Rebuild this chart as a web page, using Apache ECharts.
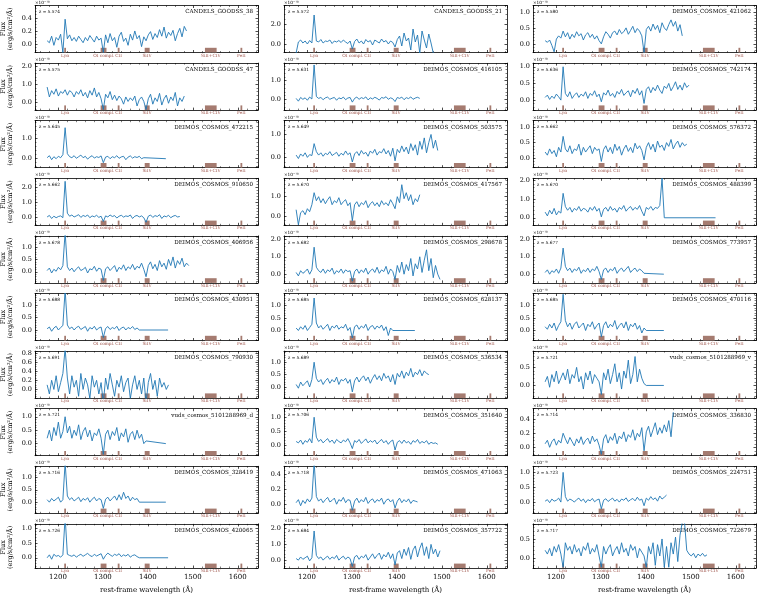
<!DOCTYPE html>
<html>
<head>
<meta charset="utf-8">
<script src="https://cdn.jsdelivr.net/npm/echarts@6/dist/echarts.min.js"></script>
<style>
html, body { margin: 0; padding: 0; background: #fff; }
#chart { width: 760px; height: 595px; }
</style>
</head>
<body>
<div id="chart"></div>
<script>
// panels, row by row (3 per row)
const panelNames = [
  'CANDELS_GOODSS_38', 'CANDELS_GOODSS_21', 'DEIMOS_COSMOS_421062',
  'CANDELS_GOODSS_47', 'DEIMOS_COSMOS_416105', 'DEIMOS_COSMOS_742174',
  'DEIMOS_COSMOS_472215', 'DEIMOS_COSMOS_503575', 'DEIMOS_COSMOS_576372',
  'DEIMOS_COSMOS_910650', 'DEIMOS_COSMOS_417567', 'DEIMOS_COSMOS_488399',
  'DEIMOS_COSMOS_406956', 'DEIMOS_COSMOS_298678', 'DEIMOS_COSMOS_773957',
  'DEIMOS_COSMOS_430951', 'DEIMOS_COSMOS_628137', 'DEIMOS_COSMOS_470116',
  'DEIMOS_COSMOS_790930', 'DEIMOS_COSMOS_536534', 'vuds_cosmos_5101288969_v',
  'vuds_cosmos_5101288969_d', 'DEIMOS_COSMOS_351640', 'DEIMOS_COSMOS_336830',
  'DEIMOS_COSMOS_328419', 'DEIMOS_COSMOS_471063', 'DEIMOS_COSMOS_224751',
  'DEIMOS_COSMOS_420065', 'DEIMOS_COSMOS_357722', 'DEIMOS_COSMOS_722679'
];
const redshifts = [
  '5.574', '5.572', '5.580', '5.575', '5.631', '5.636', '5.645', '5.649', '5.662', '5.662',
  '5.670', '5.670', '5.678', '5.682', '5.677', '5.688', '5.685', '5.685', '5.691', '5.689',
  '5.721', '5.721', '5.706', '5.714', '5.716', '5.718', '5.723', '5.726', '5.684', '5.717'
];
const yMin = [-0.13, -0.85, -0.27, -0.43, -0.58, -0.30, -0.45, -0.45, -0.30, -0.50,
  -0.43, -0.40, -0.45, -0.50, -0.50, -0.42, -0.40, -0.40, -0.19, -0.45,
  -0.35, -0.45, -0.35, -0.12, -0.45, -0.12, -0.35, -0.35, -0.50, -0.27];
const yMax = [0.59, 3.85, 1.20, 2.18, 1.95, 1.11, 1.90, 1.60, 1.20, 2.60,
  1.92, 2.10, 1.45, 2.20, 2.20, 1.46, 1.48, 1.48, 0.84, 1.45,
  0.95, 1.30, 1.30, 0.55, 1.45, 0.50, 1.20, 1.16, 2.30, 0.90];
const yStep = [0.2, 2, 0.5, 1, 1, 0.5, 1, 1, 0.5, 1,
  1, 1, 0.5, 1, 1, 0.5, 0.5, 0.5, 0.2, 0.5,
  0.5, 0.5, 0.5, 0.2, 0.5, 0.2, 0.5, 0.5, 1, 0.5];
// flat zero continuation after the measured spectrum (null = none)
const tailEnd = [null, null, null, null, null, null, 1440, null, null, null,
  null, 1555, null, null, 1440, 1445, 1440, 1440, null, null,
  1440, 1440, null, null, 1440, null, null, 1445, null, null];

// spectra: flux (1e-18 erg/s/cm2/A), sampled from 1176 A every 5 A
const specStart = 1176;
const specStep = 5;
const fluxGoodss38 = [0.05, 0.02, 0.12, -0.02, 0.10, 0.06, 0.15, -0.13, 0.38, 0.08, 0.14, 0.05, 0.10, 0.04, 0.12, 0.07, 0.02, 0.10, 0.05, 0.13, 0.08, 0.03, 0.12, 0.06, 0.09, -0.13, 0.14, 0.02, 0.16, 0.05, 0.10, -0.05, 0.12, 0.18, 0.04, 0.09, -0.02, 0.15, 0.06, 0.20, 0.08, 0.13, -0.04, 0.11, 0.05, 0.14, 0.19, 0.07, 0.16, 0.10, 0.22, 0.12, 0.26, 0.09, 0.18, 0.13, 0.21, 0.05, 0.16, 0.24, 0.11, 0.27, 0.20];
const fluxGoodss21 = [-0.9, 0.2, 0.4, 0.1, 0.3, 0.0, 0.35, 0.1, 2.9, 0.3, 0.2, 0.45, 0.1, 0.3, 0.25, 0.4, 0.05, 0.3, 0.2, 0.35, 0.15, 0.4, 0.2, 0.05, 0.3, -0.5, 0.25, 0.5, 0.1, 0.3, 0.0, 0.45, 0.2, 0.35, -0.1, 0.4, 0.25, 0.1, 0.5, 0.2, 0.35, 0.0, 0.3, 0.15, -0.3, 0.45, 0.8, -0.2, 1.1, 0.3, 0.6, -0.6, 1.5, 0.2, 0.9, -0.9, 1.3, 0.4, -0.4, 1.0, 0.1, -0.9];
const flux421062 = [0.10, 0.05, 0.12, -0.05, -0.25, 0.15, 0.25, 0.18, 0.40, 0.22, 0.35, 0.15, 0.30, 0.20, 0.38, 0.25, 0.32, 0.12, 0.28, 0.35, 0.20, 0.30, 0.15, 0.25, 0.10, 0.00, 0.22, 0.38, 0.30, 0.18, 0.35, 0.40, 0.28, 0.45, 0.32, 0.38, 0.50, 0.30, 0.42, 0.55, 0.35, 0.48, 0.40, 0.25, -0.27, 0.45, 0.55, 0.40, 0.62, 0.45, 0.58, 0.35, 0.66, 0.50, 0.42, 0.60, 0.75, 0.55, 0.70, 0.40, 0.60, 0.25];
const fluxGoodss47 = [0.85, 0.30, 0.65, 0.45, 0.75, 0.35, 0.60, 0.50, 0.70, 0.40, 0.65, 0.55, 0.30, 0.60, 0.45, 0.70, 0.35, 0.55, 0.25, 0.65, 0.40, 0.80, 0.30, 0.55, 0.20, -0.40, 0.45, 0.25, 0.60, 0.15, 0.40, 0.10, 0.35, 0.20, -0.10, 0.30, 0.05, 0.25, 0.10, 0.35, -0.20, 0.15, 0.30, 0.05, -0.40, 0.20, 0.45, -0.10, 0.25, 0.05, 0.50, -0.15, 0.20, 0.40, -0.05, 0.30, 0.10, 0.55, -0.20, 0.25, 0.05, 0.35];
const flux416105 = [0.05, -0.10, 0.10, 0.00, 0.08, -0.05, 0.12, 0.02, 1.85, 0.15, 0.05, 0.10, -0.02, 0.08, 0.12, 0.00, 0.06, 0.10, -0.05, 0.08, 0.03, 0.12, -0.02, 0.07, 0.10, -0.15, 0.05, 0.12, 0.00, 0.09, 0.04, 0.13, -0.03, 0.08, 0.02, 0.11, 0.05, -0.04, 0.10, 0.06, 0.14, 0.00, 0.08, 0.03, -0.12, 0.10, 0.05, 0.12, -0.02, 0.09, 0.04, 0.13, 0.00, 0.07, 0.11, 0.05];
const flux742174 = [0.08, 0.15, 0.02, 0.12, 0.05, 0.18, 0.10, 0.00, 1.00, 0.20, 0.10, 0.25, 0.05, 0.15, 0.22, 0.08, 0.18, 0.12, 0.25, 0.05, 0.20, 0.14, 0.28, 0.10, 0.18, -0.05, 0.22, 0.15, 0.30, 0.12, 0.20, 0.08, 0.26, 0.18, 0.32, 0.14, 0.22, 0.28, 0.10, 0.30, 0.20, 0.35, 0.15, 0.28, -0.10, 0.32, 0.40, 0.22, 0.38, 0.28, 0.45, 0.30, 0.20, 0.42, 0.35, 0.50, 0.28, 0.40, 0.55, 0.32, 0.45, 0.30, 0.52, 0.38, 0.45];
const flux472215 = [0.05, 0.15, -0.05, 0.10, 0.00, 0.12, 0.05, 0.20, 1.55, 0.25, 0.10, 0.05, 0.15, 0.02, 0.10, 0.18, 0.05, 0.12, -0.02, 0.08, 0.15, 0.03, 0.10, 0.06, 0.14, -0.20, 0.08, 0.12, 0.00, 0.10, 0.05, 0.15, 0.02, 0.09, 0.12, -0.05, 0.08, 0.14, 0.03, 0.10, 0.06, 0.12, 0.00, 0.05];
const flux503575 = [0.10, -0.05, 0.15, 0.05, 0.20, 0.00, 0.12, 0.08, 0.60, 0.25, 0.10, 0.20, 0.05, 0.18, 0.12, 0.25, 0.08, 0.15, 0.22, 0.05, 0.18, 0.10, 0.28, 0.12, 0.20, -0.20, 0.15, 0.25, 0.08, 0.30, 0.15, 0.22, 0.05, 0.28, 0.18, 0.35, 0.10, 0.25, 0.20, 0.38, 0.15, 0.30, 0.05, 0.40, -0.15, 0.35, 0.20, 0.50, 0.25, 0.45, 0.15, 0.60, 0.30, 0.55, 0.10, 0.70, 0.35, 0.85, 0.20, 0.65, 1.00, 0.40, 0.75, 0.30];
const flux576372 = [0.20, 0.10, 0.30, 0.15, 0.25, 0.05, 0.35, 0.20, 0.70, 0.30, 0.20, 0.40, 0.15, 0.30, 0.25, 0.45, 0.10, 0.35, 0.20, 0.30, 0.40, 0.15, 0.35, 0.25, 0.30, -0.10, 0.28, 0.40, 0.20, 0.35, 0.15, 0.45, 0.25, 0.38, 0.10, 0.30, 0.42, 0.22, 0.35, 0.18, 0.48, 0.30, 0.40, 0.25, -0.05, 0.35, 0.50, 0.28, 0.45, 0.20, 0.55, 0.35, 0.42, 0.25, 0.50, 0.38, 0.60, 0.30, 0.45, 0.55, 0.35, 0.50, 0.40, 0.45];
const flux910650 = [0.05, 0.15, -0.05, 0.10, 0.00, 0.08, 0.12, 0.00, 2.40, 0.30, 0.10, 0.18, 0.05, 0.12, 0.20, 0.02, 0.15, 0.08, 0.18, 0.00, 0.12, 0.06, 0.16, 0.02, 0.10, -0.25, 0.12, 0.05, 0.18, 0.08, 0.14, -0.02, 0.10, 0.16, 0.04, 0.12, 0.08, 0.18, -0.05, 0.10, 0.15, 0.05, 0.12, 0.00, -0.30, 0.10, 0.18, 0.02, 0.14, 0.08, 0.20, -0.05, 0.12, 0.06, 0.16, 0.00, 0.10, 0.15, 0.05, 0.08];
const flux417567 = [0.35, -0.40, 0.20, 0.30, 0.10, 0.40, 0.25, 0.60, 1.20, 0.80, 1.00, 0.70, 0.90, 0.65, 0.85, 1.00, 0.60, 0.80, 0.70, 0.95, 0.60, 0.75, 0.85, 0.55, 0.70, -0.20, 0.60, 0.75, 0.50, 0.70, 0.60, 0.80, 0.45, 0.65, 0.75, 0.55, 0.70, 0.50, 0.80, 0.60, 0.70, 0.55, 0.85, 0.65, 0.40, 1.00, 0.70, 1.60, 0.90, 1.20, 0.80, 1.10, 0.60, 0.90, 0.75, 1.10];
const flux488399 = [0.30, 0.10, 0.40, 0.20, 0.50, 0.15, 0.35, 0.25, 1.30, 0.60, 0.40, 0.55, 0.30, 0.50, 0.40, 0.60, 0.35, 0.50, 0.45, 0.30, 0.55, 0.40, 0.60, 0.35, 0.50, 0.05, 0.45, 0.55, 0.35, 0.60, 0.40, 0.50, 0.30, 0.55, 0.45, 0.65, 0.35, 0.50, 0.60, 0.40, 0.55, 0.45, 0.65, 0.35, 0.10, 0.55, 0.45, 0.60, 0.40, 0.55, 0.50, 0.65, 2.10, 0.00];
const flux406956 = [0.05, 0.15, -0.05, 0.10, 0.02, 0.18, 0.08, 0.25, 1.60, 0.20, 0.05, 0.15, 0.00, 0.12, 0.20, 0.05, 0.10, 0.18, -0.05, 0.12, 0.08, 0.22, 0.02, 0.15, 0.10, -0.35, 0.12, 0.20, 0.05, 0.15, 0.25, 0.00, 0.18, 0.10, 0.28, 0.05, 0.20, 0.12, 0.30, 0.08, 0.22, 0.15, 0.35, 0.10, -0.20, 0.25, 0.40, 0.12, 0.30, 0.05, 0.45, 0.20, 0.35, 0.10, 0.50, 0.25, 0.60, 0.15, 0.45, 0.30, 0.55, 0.20, 0.35, 0.25];
const flux298678 = [0.10, -0.10, 0.20, 0.05, 0.15, 0.30, 0.00, 0.25, 1.55, 0.40, 0.20, 0.10, 0.30, 0.05, 0.25, 0.15, 0.35, 0.00, 0.20, 0.10, 0.30, 0.05, 0.25, 0.15, 0.20, -0.40, 0.15, 0.30, 0.05, 0.25, 0.10, 0.35, 0.00, 0.20, 0.30, 0.10, 0.40, 0.05, 0.25, 0.15, 0.45, 0.00, 0.30, 0.15, -0.30, 0.50, 0.10, 0.70, 0.00, 0.55, 0.20, 0.90, -0.10, 0.60, 0.30, 1.00, 0.10, 0.80, 1.40, 0.20, 0.90, -0.20, 0.50, 0.00, -0.30];
const flux773957 = [0.10, 0.25, 0.00, 0.20, 0.10, 0.30, 0.05, 0.35, 1.50, 0.45, 0.20, 0.35, 0.10, 0.30, 0.20, 0.40, 0.05, 0.25, 0.15, 0.35, 0.10, 0.30, 0.20, 0.45, 0.15, -0.30, 0.25, 0.35, 0.10, 0.30, 0.20, 0.40, 0.05, 0.25, 0.35, 0.15, 0.30, 0.45, 0.10, 0.25, 0.35, 0.15, 0.30, 0.20, 0.05];
const flux430951 = [0.05, 0.12, -0.05, 0.08, 0.15, 0.00, 0.10, 0.18, 1.60, 0.20, 0.05, 0.12, 0.00, 0.10, 0.15, 0.02, 0.08, 0.14, -0.05, 0.10, 0.04, 0.15, 0.00, 0.08, 0.12, -0.30, 0.06, 0.14, 0.02, 0.10, 0.05, 0.15, -0.02, 0.08, 0.12, 0.00, 0.10, 0.05, 0.14, 0.02, 0.08, 0.00];
const flux628137 = [0.10, 0.00, 0.15, 0.05, 0.20, 0.00, 0.12, 0.25, 1.30, 0.30, 0.10, 0.20, 0.05, 0.15, 0.25, 0.00, 0.18, 0.10, 0.22, 0.05, 0.15, 0.10, 0.25, 0.00, 0.12, -0.30, 0.15, 0.22, 0.05, 0.18, 0.10, 0.25, 0.00, 0.15, 0.20, 0.05, 0.18, 0.10, 0.22, 0.00, 0.15, -0.20, 0.10, 0.00];
const flux470116 = [0.15, 0.05, 0.25, 0.10, 0.30, 0.00, 0.20, 0.35, 1.45, 0.40, 0.15, 0.30, 0.05, 0.25, 0.35, 0.10, 0.20, 0.30, 0.00, 0.25, 0.15, 0.35, 0.05, 0.20, 0.30, -0.25, 0.20, 0.35, 0.10, 0.25, 0.15, 0.40, 0.05, 0.20, 0.30, 0.10, 0.35, 0.00, 0.25, 0.15, 0.30, 0.05, 0.20, -0.10, 0.10, 0.00];
const flux790930 = [0.10, -0.10, 0.20, 0.00, 0.30, -0.05, 0.15, 0.35, 0.90, 0.25, -0.10, 0.30, 0.05, 0.20, -0.15, 0.35, 0.00, 0.25, 0.10, -0.20, 0.30, 0.05, 0.20, -0.10, 0.15, -0.30, 0.25, 0.00, 0.35, 0.10, -0.15, 0.20, 0.05, 0.30, -0.05, 0.15, 0.25, -0.20, 0.10, 0.30, 0.00, 0.20, -0.10, 0.25, -0.30, 0.15, 0.35, 0.00, 0.20, -0.15, 0.25, 0.05, 0.15, 0.00, 0.10];
const flux536534 = [0.10, -0.05, 0.20, 0.05, 0.15, 0.25, 0.00, 0.30, 1.00, 0.35, 0.20, 0.30, 0.10, 0.25, 0.35, 0.15, 0.30, 0.20, 0.40, 0.10, 0.30, 0.25, 0.35, 0.15, 0.30, -0.20, 0.25, 0.40, 0.20, 0.35, 0.45, 0.25, 0.40, 0.15, 0.35, 0.50, 0.30, 0.45, 0.25, 0.55, 0.35, 0.45, 0.20, 0.50, 0.10, 0.55, 0.40, 0.65, 0.35, 0.60, 0.45, 0.75, 0.40, 0.60, 0.50, 0.70, 0.45, 0.65, 0.55, 0.50];
const fluxVudsV = [0.10, 0.25, -0.05, 0.30, 0.10, 0.40, 0.05, 0.20, 0.35, 0.15, 0.45, 0.05, 0.30, 0.20, 0.50, 0.10, 0.25, -0.10, 0.35, 0.15, 0.40, 0.05, 0.30, 0.20, 0.10, -0.25, 0.35, 0.15, 0.45, 0.05, 0.30, 0.60, 0.10, 0.35, -0.10, 0.40, 0.20, 0.70, 0.05, 0.30, 0.80, 0.10, 0.45, 0.20, 0.05, 0.00];
const fluxVudsD = [0.20, 0.50, 0.10, 0.60, 0.30, 0.80, 0.20, 0.45, 1.00, 0.40, 0.65, 0.20, 0.50, 0.30, 0.70, 0.15, 0.45, 0.60, 0.25, 0.50, 0.10, 0.40, 0.30, 0.55, 0.20, -0.40, 0.35, 0.50, 0.15, 0.45, 0.30, 0.60, 0.10, 0.40, 0.25, 0.55, 0.05, 0.35, 0.45, 0.15, 0.50, 0.20, 0.35, 0.00, 0.10];
const flux351640 = [0.15, 0.10, 0.20, 0.05, 0.18, 0.12, 0.25, 0.10, 1.00, 0.30, 0.15, 0.22, 0.10, 0.18, 0.25, 0.12, 0.20, 0.08, 0.22, 0.15, 0.10, 0.20, 0.14, 0.25, 0.10, -0.10, 0.18, 0.12, 0.22, 0.08, 0.16, 0.24, 0.10, 0.18, 0.12, 0.20, 0.06, 0.15, 0.22, 0.10, 0.18, 0.05, 0.15, 0.20, -0.15, 0.12, 0.18, 0.08, 0.20, 0.10, 0.15, 0.05, 0.18, 0.12, 0.22, 0.08, 0.15, 0.10, 0.18, 0.05, 0.12, 0.08, 0.10, 0.05];
const flux336830 = [0.05, 0.10, 0.00, 0.08, 0.12, 0.03, 0.10, 0.06, 0.20, 0.12, 0.05, 0.14, 0.08, 0.02, 0.12, 0.06, 0.15, 0.04, 0.10, 0.13, 0.05, 0.16, 0.08, 0.12, 0.03, -0.10, 0.12, 0.18, 0.06, 0.15, 0.10, 0.20, 0.05, 0.16, 0.12, 0.22, 0.08, 0.18, 0.14, 0.25, 0.10, 0.20, 0.15, 0.28, -0.05, 0.22, 0.30, 0.15, 0.25, 0.35, 0.18, 0.28, 0.20, 0.32, 0.22, 0.38, 0.15, 0.50];
const flux328419 = [0.10, 0.00, 0.15, 0.05, 0.12, 0.20, 0.00, 0.10, 1.60, 0.25, 0.10, 0.18, 0.05, 0.12, 0.20, 0.02, 0.15, 0.08, 0.18, 0.00, 0.12, 0.20, 0.05, 0.15, 0.10, -0.25, 0.12, 0.20, 0.05, 0.15, 0.25, 0.08, 0.30, 0.10, 0.40, 0.15, 0.25, 0.05, 0.20, 0.10, 0.15, 0.00];
const flux471063 = [0.02, 0.06, -0.02, 0.05, 0.01, 0.07, 0.03, 0.08, 0.55, 0.10, 0.04, 0.07, 0.02, 0.06, 0.09, 0.03, 0.05, 0.08, 0.00, 0.06, 0.04, 0.09, 0.02, 0.06, 0.05, -0.08, 0.04, 0.08, 0.02, 0.06, 0.03, 0.09, 0.01, 0.05, 0.07, 0.02, 0.06, 0.04, 0.08, 0.00, 0.05, 0.07, 0.03, 0.06, -0.05, 0.04, 0.08, 0.02, 0.06, 0.03, 0.07, 0.01, 0.05, 0.04, 0.03];
const flux224751 = [0.05, 0.10, 0.00, 0.12, 0.05, 0.08, 0.15, 0.02, 1.00, 0.20, 0.05, 0.12, 0.08, 0.02, 0.10, 0.15, 0.05, 0.12, 0.00, 0.10, 0.06, 0.14, 0.03, 0.09, 0.12, -0.20, 0.08, 0.13, 0.04, 0.10, 0.15, 0.05, 0.11, 0.02, 0.12, 0.08, 0.16, 0.04, 0.10, 0.14, 0.06, 0.18, 0.08, 0.12, -0.10, 0.15, 0.08, 0.20, 0.10, 0.16, 0.05, 0.22, 0.12, 0.18, 0.25];
const flux420065 = [0.00, 0.10, -0.05, 0.12, 0.05, 0.08, 0.02, 0.10, 1.40, 0.12, 0.08, 0.05, 0.10, 0.02, 0.08, 0.12, 0.05, 0.10, 0.15, 0.08, 0.04, 0.12, 0.06, 0.10, 0.14, -0.05, 0.08, 0.16, 0.10, 0.05, 0.12, 0.08, 0.14, 0.04, 0.10, 0.06, 0.12, 0.02, 0.08, 0.10, 0.04, 0.00];
const flux357722 = [0.10, 0.00, 0.20, 0.05, 0.15, 0.25, -0.05, 0.15, 1.85, 0.30, 0.10, 0.20, 0.00, 0.15, 0.25, 0.05, 0.20, 0.10, 0.30, 0.00, 0.15, 0.25, 0.05, 0.20, 0.10, -0.40, 0.20, 0.30, 0.05, 0.25, 0.15, 0.35, 0.00, 0.20, 0.40, 0.10, 0.30, 0.45, 0.05, 0.35, 0.20, 0.50, 0.10, 0.40, -0.30, 0.45, 0.60, 0.10, 0.70, 0.30, 0.80, 0.05, 0.65, 0.90, 0.20, 0.75, 1.10, 0.30, 0.85, 0.10, 1.00, 0.40, 0.70, 0.20, 0.60];
const flux722679 = [0.20, 0.10, 0.25, 0.05, 0.30, 0.15, 0.35, 0.10, -0.25, 0.40, 0.20, 0.30, 0.10, 0.35, 0.15, 0.25, 0.05, 0.30, 0.20, 0.40, 0.10, 0.25, 0.15, 0.35, 0.05, -0.25, 0.30, 0.10, 0.25, 0.35, 0.05, 0.20, 0.30, 0.10, 0.40, 0.15, 0.25, 0.05, 0.35, 0.20, 0.30, 0.00, 0.25, 0.15, 0.05, -0.25, 0.30, 0.10, 0.40, -0.20, 0.35, 0.05, 0.50, -0.25, 0.30, -0.25, 0.40, 0.10, 0.55, -0.10, 0.60, 0.95, 0.95, 0.20, 0.10, 0.05, 0.12, 0.00, 0.10, 0.05, 0.12, 0.04, 0.08];

const fluxes = [
  fluxGoodss38, fluxGoodss21, flux421062, fluxGoodss47, flux416105, flux742174,
  flux472215, flux503575, flux576372, flux910650, flux417567, flux488399,
  flux406956, flux298678, flux773957, flux430951, flux628137, flux470116,
  flux790930, flux536534, fluxVudsV, fluxVudsD, flux351640, flux336830,
  flux328419, flux471063, flux224751, flux420065, flux357722, flux722679
];

// emission / absorption line markers
const lineNames = ['Ly\u03b1', 'OI compl.', 'CII', 'SiIV', 'SiII+CIV', 'FeII'];
const lineLo = [1214, 1295, 1333, 1393, 1527, 1606];
const lineHi = [1218, 1308, 1337, 1404, 1553, 1610];
const lineLabelAt = [1216, 1302, 1335, 1398, 1540, 1608];

const xMin = 1149;
const xMax = 1645;

const chart = echarts.init(document.getElementById('chart'));
const FONT = 'DejaVu Serif';
const colLeft = [35, 284, 533];
const panelW = 223;
const panelH = 47;
const rowTop = 5.5;
const rowStride = 57.6;

function onStep(v, step) {
  const q = v / step;
  return Math.abs(q - Math.round(q)) < 1e-6;
}

const grids = [];
const xAxes = [];
const yAxes = [];
const series = [];
const texts = [];

panelNames.forEach(function (name, i) {
  const row = Math.floor(i / 3);
  const col = i % 3;
  const left = colLeft[col];
  const top = rowTop + row * rowStride;
  const lastRow = row === 9;
  grids.push({ left: left, top: top, width: panelW, height: panelH });

  const tickStyle = { color: '#000', width: 0.7 };
  const xCommon = {
    type: 'value', gridIndex: i, min: xMin, max: xMax, minInterval: 100, maxInterval: 100,
    axisLine: { show: true, onZero: false, lineStyle: { color: '#000', width: 0.8 } },
    axisTick: { show: true, inside: true, length: 2.5, lineStyle: tickStyle },
    minorTick: { show: true, splitNumber: 5, length: 1.5, lineStyle: { color: '#000', width: 0.5 } },
    splitLine: { show: false }
  };
  xAxes.push(Object.assign({}, xCommon, {
    position: 'bottom',
    axisLabel: {
      show: lastRow, margin: 6, fontSize: 7, color: '#000', fontFamily: FONT,
      formatter: function (v) { return onStep(v, 100) ? String(v) : ''; }
    },
    name: lastRow ? 'rest-frame wavelength (\u00c5)' : '',
    nameLocation: 'middle', nameGap: 19,
    nameTextStyle: { fontSize: 7, color: '#000', fontFamily: FONT }
  }));
  xAxes.push(Object.assign({}, xCommon, { position: 'top', axisLabel: { show: false } }));

  const step = yStep[i];
  const yCommon = {
    type: 'value', gridIndex: i, min: yMin[i], max: yMax[i], minInterval: step, maxInterval: step,
    axisLine: { show: true, lineStyle: { color: '#000', width: 0.8 } },
    axisTick: { show: true, inside: true, length: 2.5, lineStyle: tickStyle },
    minorTick: { show: true, splitNumber: (step === 0.2 || step === 2) ? 4 : 5, length: 1.5, lineStyle: { color: '#000', width: 0.5 } },
    splitLine: { show: false }
  };
  yAxes.push(Object.assign({}, yCommon, {
    position: 'left',
    axisLabel: {
      margin: 3, fontSize: 6.5, color: '#000', fontFamily: FONT,
      formatter: function (v) { return onStep(v, step) ? v.toFixed(1) : ''; }
    },
    name: '\u00d710\u207b\u00b9\u2078', nameLocation: 'end', nameGap: 1,
    nameTextStyle: { fontSize: 4.3, color: '#000', fontFamily: FONT, align: 'left', verticalAlign: 'bottom' }
  }));
  yAxes.push(Object.assign({}, yCommon, { position: 'right', axisLabel: { show: false } }));

  // spectrum
  const pts = fluxes[i].map(function (f, k) { return [specStart + k * specStep, f]; });
  if (tailEnd[i] !== null) pts.push([tailEnd[i], 0]);
  series.push({
    type: 'line', xAxisIndex: 2 * i, yAxisIndex: 2 * i, data: pts,
    showSymbol: false, silent: true, z: 3,
    lineStyle: { color: '#1f77b4', width: 0.9 }
  });

  // line markers and their labels
  series.push({
    type: 'custom', xAxisIndex: 2 * i, yAxisIndex: 2 * i, silent: true, clip: false, z: 2,
    data: lineNames.map(function (n, k) { return [lineLabelAt[k], k]; }),
    renderItem: function (params, api) {
      const k = api.value(1);
      const h = 0.1 * (yMax[i] - yMin[i]);
      const lo = api.coord([lineLo[k], yMin[i]]);
      const hi = api.coord([lineHi[k], yMin[i] + h]);
      const mid = api.coord([lineLabelAt[k], yMin[i]]);
      return {
        type: 'group',
        children: [
          { type: 'rect', shape: { x: lo[0], y: hi[1], width: Math.max(hi[0] - lo[0], 1.2), height: lo[1] - hi[1] },
            style: { fill: '#a57b70' } },
          { type: 'text', x: mid[0], y: lo[1] + 1,
            style: { text: lineNames[k], font: '4.3px "DejaVu Serif"', fill: '#a0574e', textAlign: 'center', textVerticalAlign: 'top' } }
        ]
      };
    }
  });

  texts.push({
    type: 'text', x: left + panelW - 5, y: top + 3.5, silent: true,
    style: { text: name, font: '5.6px "DejaVu Serif"', fill: '#000', textAlign: 'right', textVerticalAlign: 'top' }
  });
  texts.push({
    type: 'text', x: left + 4, y: top + 4.5, silent: true,
    style: { text: 'z = ' + redshifts[i], font: '4.3px "DejaVu Serif"', fill: '#000', textAlign: 'left', textVerticalAlign: 'top' }
  });
  if (col === 0) {
    texts.push({
      type: 'text', x: 7, y: top + panelH / 2, rotation: Math.PI / 2, silent: true,
      style: { text: 'Flux\n(erg/s/cm\u00b2/\u00c5)', font: '6.5px "DejaVu Serif"', lineHeight: 7.5, fill: '#000', textAlign: 'center', textVerticalAlign: 'middle' }
    });
  }
});

const option = {
  animation: false,
  backgroundColor: '#fff',
  grid: grids,
  xAxis: xAxes,
  yAxis: yAxes,
  series: series,
  graphic: { elements: texts }
};
chart.setOption(option);
</script>
</body>
</html>
